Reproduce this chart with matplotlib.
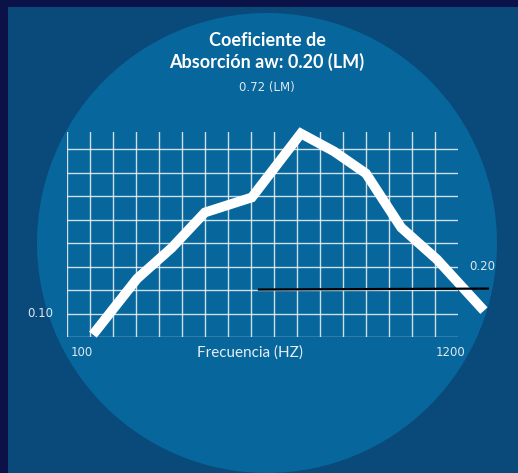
import numpy as np
import matplotlib.pyplot as plt
from matplotlib.patches import Rectangle, Circle

# absorption curve (frequency in Hz, coefficient)
freq = [173, 297, 395, 488, 620, 758, 851, 941, 1040, 1141, 1273]
coef = [0.055, 0.174, 0.240, 0.315, 0.347, 0.483, 0.445, 0.398, 0.283, 0.215, 0.106]
# reference line aw
ref_freq = [640, 1284]
ref_coef = [0.151, 0.153]

fig = plt.figure(figsize=(5.18, 4.73), dpi=100)
fig.patch.set_facecolor('#0b1248')

# background panel and circle
bg = fig.add_axes([0, 0, 1, 1])
bg.set_xlim(0, 518)
bg.set_ylim(473, 0)
bg.axis('off')
bg.add_patch(Rectangle((8, 7), 510, 466, color='#094a7a', lw=0))
bg.add_patch(Circle((267, 243), 230, color='#07669b', lw=0))

ax = fig.add_axes([67/518, 1 - 337/473, 391/518, 205/473])
ax.set_xlim(100, 1200)
ax.set_ylim(0.05, 0.05 + 205/23.5*0.05)
ax.axis('off')

# grid
for x in np.linspace(100, 1200, 18)[:-1]:
    ax.plot([x, x], [0.05, 0.05 + 205/23.5*0.05], color='white', lw=1.0, alpha=0.8)
for y in np.arange(0.05, 0.46, 0.05):
    ax.plot([100, 1200], [y, y], color='white', lw=1.0, alpha=0.8)

ax.plot(freq, coef, color='white', lw=7, solid_capstyle='butt',
        solid_joinstyle='miter', clip_on=False)
ax.plot(ref_freq, ref_coef, color='black', lw=1.6, clip_on=False)

lbl = dict(color='#dfe8f0', fontsize=8.5, family=['Liberation Sans Narrow', 'DejaVu Sans'])
ax.text(62, 0.10, '0.10', ha='right', va='center', **lbl)
ax.text(1268, 0.20, '0.20', ha='center', va='center', **lbl)
ax.text(142, 0.05 - 15/23.5*0.05, '100', ha='center', va='center', **lbl)
ax.text(1178, 0.05 - 15/23.5*0.05, '1200', ha='center', va='center', **lbl)
ax.text(614, 0.05 - 16/23.5*0.05, 'Frecuencia (HZ)', ha='center', va='center',
        color='#e6eef5', fontsize=11, family='Lato')

fig.text(267/518, 1 - 41/473, 'Coeficiente de', ha='center', va='center',
         color='white', fontsize=13, fontweight='bold', family='Lato')
fig.text(267/518, 1 - 62/473, 'Absorción aw: 0.20 (LM)', ha='center', va='center',
         color='white', fontsize=13, fontweight='bold', family='Lato')
fig.text(267/518, 1 - 87/473, '0.72 (LM)', ha='center', va='center', **lbl)

fig.savefig('out.png', dpi=100, facecolor=fig.get_facecolor())
